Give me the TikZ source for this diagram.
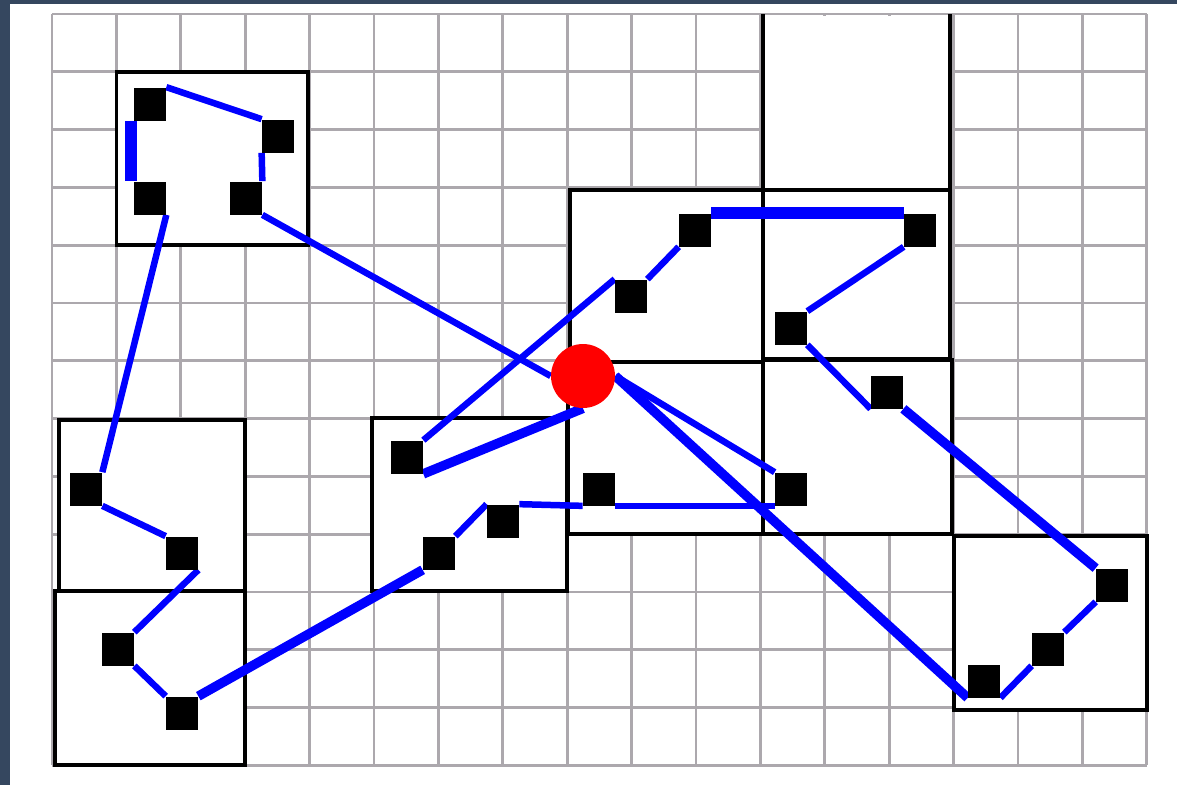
\documentclass[tikz,border=0pt]{standalone}
\usepackage{xcolor}
\definecolor{Route}{HTML}{0000FF}
\definecolor{Depot}{HTML}{FF0000}
\definecolor{GridGray}{HTML}{ACA8AD}
\definecolor{Frame}{HTML}{35475F}
\pgfdeclarelayer{back}
\pgfdeclarelayer{links}
\pgfsetlayers{back,links,main}
\tikzset{
  cust/.style={fill=black, minimum width=0.64cm, minimum height=0.66cm, inner sep=0pt},
  depotdot/.style={circle, fill=Depot, minimum size=1.28cm, inner sep=0pt},
  route/.style={draw=Route, line width=#1},
  route/.default={0.13cm},
  zone/.style={draw=black, line width=0.07cm, fill=white},
  gridline/.style={draw=GridGray, line width=0.055cm},
}

\begin{document}
\begin{tikzpicture}[x=0.02cm, y=-0.02cm]
  \useasboundingbox (0,0) rectangle (1177,785);
  \begin{pgfonlayer}{back}
    \fill[white] (0,0) rectangle (1177,785);
    \fill[Frame] (0,0) rectangle (10,785);
    \fill[Frame] (0,0) rectangle (1177,4);
    \foreach \i in {0,...,17}
      \draw[gridline] ({52+64.4*\i},14) -- ({52+64.4*\i},765.4);
    \foreach \j in {0,...,13}
      \draw[gridline] (52,{14+57.8*\j}) -- (1146.8,{14+57.8*\j});
    \path[zone] (116.4,71.8) rectangle (308,245);
    \path[zone] (59,420) rectangle (245,591);
    \path[zone] (55,591) rectangle (245,765);
    \path[zone] (372,418) rectangle (567,591);
    \path[zone] (568,362) rectangle (763,534);
    \path[zone] (570,190) rectangle (763,362);
    \path[zone] (763,190) rectangle (950,359);
    \path[zone] (763,360) rectangle (952,534);
    \path[zone] (954,536) rectangle (1147,710);
    \fill[white] (763,15.5) rectangle (950,190);
    \draw[black, line width=0.07cm] (763,14) -- (763,190) -- (950,190) -- (950,14);
  \end{pgfonlayer}

  \node[cust] (v1) at (150,104) {};
  \node[cust] (v2) at (278,136) {};
  \node[cust] (v3) at (150,198) {};
  \node[cust] (v4) at (246,198) {};
  \node[cust] (v5) at (86,489) {};
  \node[cust] (v6) at (182,553) {};
  \node[cust] (v7) at (118,649) {};
  \node[cust] (v8) at (182,713) {};
  \node[cust] (v9) at (407,457) {};
  \node[cust] (v10) at (439,553) {};
  \node[cust] (v11) at (503,521) {};
  \node[cust] (v12) at (599,489) {};
  \node[cust] (v13) at (791,489) {};
  \node[cust] (v14) at (695,230) {};
  \node[cust] (v15) at (631,296) {};
  \node[cust] (v16) at (920,230) {};
  \node[cust] (v17) at (791,328) {};
  \node[cust] (v18) at (887,392) {};
  \node[cust] (v19) at (1112,585) {};
  \node[cust] (v20) at (1048,649) {};
  \node[cust] (v21) at (984,681) {};
  \node[depotdot] (depot) at (583,376) {};

  \begin{pgfonlayer}{links}
    \foreach \a/\b in {depot.west/v4.south east, v4.north east/v2.south west,
        v2.north west/v1.north east, v3.south east/v5.north east,
        v5.south east/v6.north west, v6.south east/v7.north east,
        v7.south east/v8.north west, v10.north east/v11.north west,
        v11.north east/v12.south west, v12.south east/v13.south west,
        depot.east/v13.north west, v21.south east/v20.south west,
        v20.north east/v19.south west, v18.south west/v17.south east,
        v17.north east/v16.south west, v14.south west/v15.north east,
        v15.north west/v9.north east}
      \draw[route] (\a) -- (\b);
    \foreach \a/\b in {v8.north east/v10.south west, depot.east/v21.south west,
        v19.north west/v18.south east, v9.south east/depot.south}
      \draw[route=0.19cm] (\a) -- (\b);
    \draw[route=0.25cm] ([xshift=-0.05cm]v1.south west) -- ([xshift=-0.05cm]v3.north west);
    \draw[route=0.25cm] (v16.north west) -- (v14.north east);
  \end{pgfonlayer}
\end{tikzpicture}
\end{document}
